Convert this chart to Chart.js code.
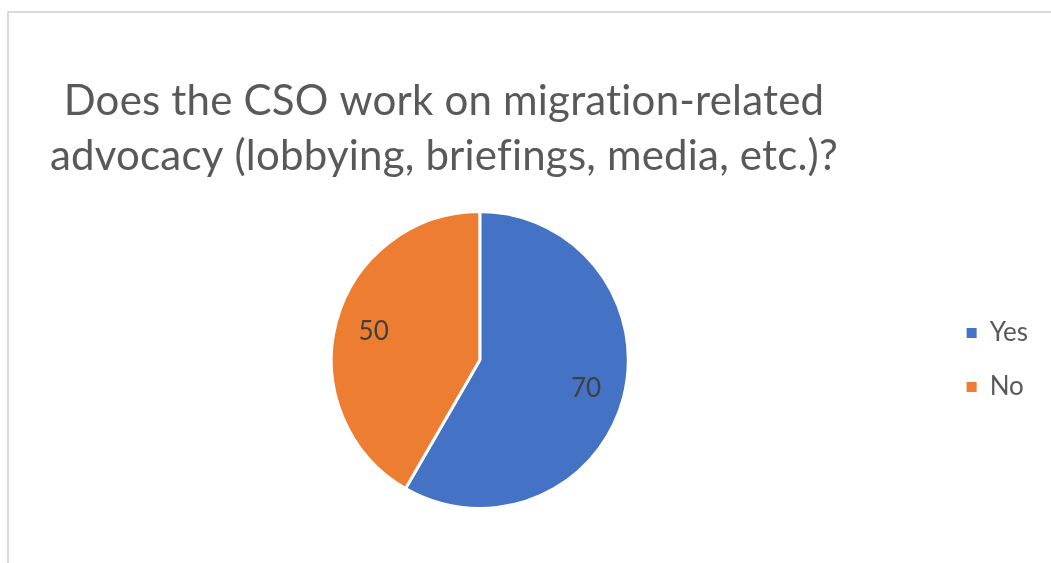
<!DOCTYPE html>
<html>
<head>
<meta charset="utf-8">
<script src="https://cdn.jsdelivr.net/npm/chart.js@4/dist/chart.umd.min.js"></script>
<style>
  html, body { margin: 0; padding: 0; background: #fff; }
  #wrap { position: relative; width: 1051px; height: 563px; overflow: hidden; }
  #frame { position: absolute; left: 7px; top: 11px; right: -4px; bottom: -4px;
           border-top: 2px solid #dadada; border-left: 2px solid #dadada; }
  #c { position: absolute; left: 0; top: 0; }
</style>
</head>
<body>
<div id="wrap">
  <div id="frame"></div>
  <canvas id="c" width="1051" height="563"></canvas>
</div>
<script>
// ---- DADOS ----
var titleLines = ['Does the CSO work on migration-related', 'advocacy (lobbying, briefings, media, etc.)?'];
var categories = ['Yes', 'No'];
var values     = [70, 50];
var colors     = ['#4472C4', '#ED7D31'];

var FONT = 'Lato, "Open Sans", sans-serif';

// ---- TITULO (duas linhas, centradas sobre a pizza) ----
var titlePlugin = {
  id: 'titleLines',
  afterDraw: function(chart) {
    var ctx = chart.ctx;
    ctx.save();
    ctx.fillStyle = '#595959';
    ctx.font = '42px ' + FONT;
    ctx.letterSpacing = '0.2px'; // espacamento > 0 desliga as ligaduras (ti, fi)
    ctx.textAlign = 'center';
    ctx.textBaseline = 'alphabetic';
    titleLines.forEach(function(t, i) {
      ctx.fillText(t, 444, 115 + i * 55);
    });
    ctx.restore();
  }
};

// ---- ROTULOS DOS VALORES ----
var valueLabels = {
  id: 'valueLabels',
  afterDatasetsDraw: function(chart) {
    var ctx = chart.ctx;
    var meta = chart.getDatasetMeta(0);
    ctx.save();
    ctx.fillStyle = '#404040';
    ctx.font = '26px ' + FONT;
    ctx.textAlign = 'center';
    ctx.textBaseline = 'middle';
    meta.data.forEach(function(arc, i) {
      var p = arc.getProps(['x', 'y', 'startAngle', 'endAngle', 'outerRadius']);
      var mid = (p.startAngle + p.endAngle) / 2;
      var r = p.outerRadius * 0.74;
      ctx.fillText(values[i], p.x + Math.cos(mid) * r, p.y + Math.sin(mid) * r);
    });
    ctx.restore();
  }
};

new Chart(document.getElementById('c'), {
  type: 'pie',
  data: {
    labels: categories,
    datasets: [{
      data: values,
      backgroundColor: colors,
      borderColor: '#ffffff',
      borderWidth: 3
    }]
  },
  options: {
    responsive: false,
    animation: false,
    devicePixelRatio: 1,
    layout: { padding: { top: 210, bottom: 53, left: 21, right: 13 } },
    plugins: {
      title: { display: false },
      tooltip: { enabled: false },
      legend: {
        position: 'right',
        align: 'center',
        labels: {
          boxWidth: 10, boxHeight: 10, padding: 28,
          color: '#595959',
          font: { family: FONT, size: 26 },
          // quadradinhos cheios, sem a borda branca das fatias
          generateLabels: function(chart) {
            return categories.map(function(c, i) {
              return { text: c, fillStyle: colors[i], strokeStyle: colors[i], lineWidth: 0, index: i, fontColor: '#595959' };
            });
          }
        }
      }
    }
  },
  plugins: [titlePlugin, valueLabels]
});
</script>
</body>
</html>
